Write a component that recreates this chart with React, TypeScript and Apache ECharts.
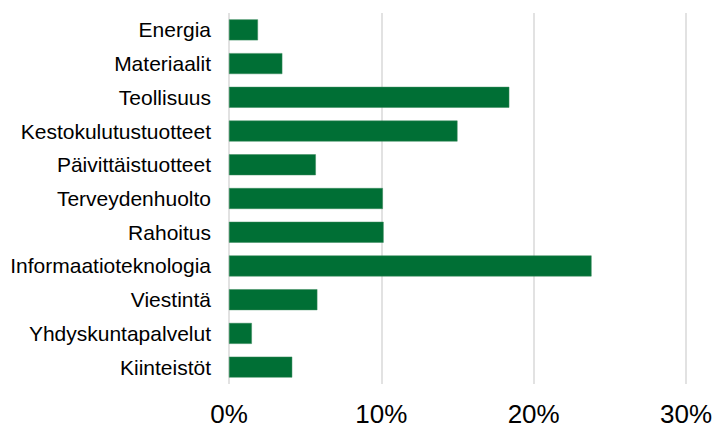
import React, { useEffect, useRef } from "react";
import * as echarts from "echarts";

const categories = [
  "Energia",
  "Materiaalit",
  "Teollisuus",
  "Kestokulutustuotteet",
  "Päivittäistuotteet",
  "Terveydenhuolto",
  "Rahoitus",
  "Informaatioteknologia",
  "Viestintä",
  "Yhdyskuntapalvelut",
  "Kiinteistöt",
];
const values = [1.9, 3.5, 18.4, 15.0, 5.7, 10.1, 10.15, 23.8, 5.8, 1.5, 4.15];
const xTicks = { min: 0, max: 30, interval: 10 };

const FONT = "'Liberation Sans', Arial, Helvetica, sans-serif";

export default function App() {
  const ref = useRef<HTMLDivElement>(null);
  useEffect(() => {
    if (!ref.current) return;
    const chart = echarts.init(ref.current, undefined, { renderer: "svg" });
    chart.setOption({
      animation: false,
      textStyle: { fontFamily: FONT },
      grid: { left: 229, right: 29, top: 13, bottom: 44, containLabel: false },
      xAxis: {
        type: "value",
        min: xTicks.min,
        max: xTicks.max,
        interval: xTicks.interval,
        axisLine: { show: false },
        axisTick: { show: false },
        splitLine: { show: true, lineStyle: { color: "#d9d9d9", width: 1.5 } },
        axisLabel: {
          formatter: (v: number) => `${v}%`,
          fontFamily: FONT,
          fontSize: 26,
          color: "#000",
          margin: 17,
        },
      },
      yAxis: {
        type: "category",
        data: categories,
        inverse: true,
        axisLine: { show: false },
        axisTick: { show: false },
        axisLabel: {
          fontFamily: FONT,
          fontSize: 21,
          color: "#000",
          margin: 18,
        },
      },
      series: [
        {
          type: "bar",
          data: values,
          barCategoryGap: "38%",
          itemStyle: { color: "#006f35", borderColor: "#3a8a5c", borderWidth: 0.5 },
        },
      ],
    });
    return () => chart.dispose();
  }, []);
  return <div ref={ref} style={{ width: 715, height: 428, position: "absolute", left: 0, top: 0 }} />;
}
